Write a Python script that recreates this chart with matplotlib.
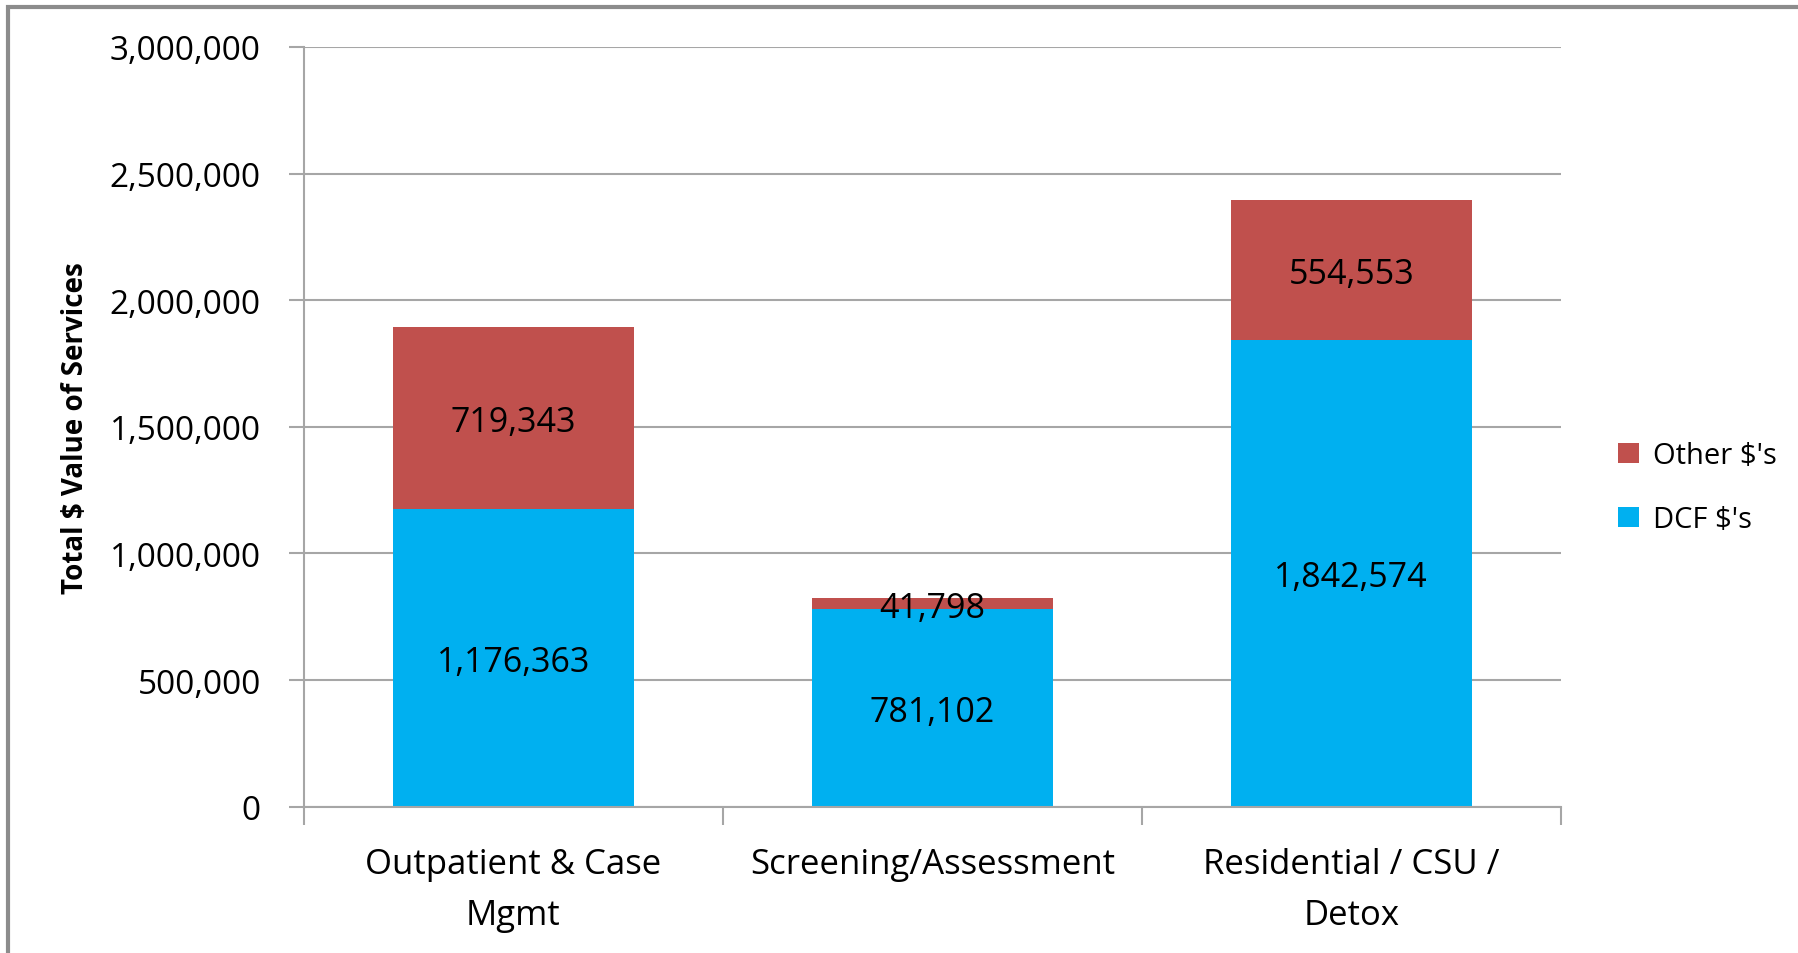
import matplotlib
matplotlib.use("Agg")
import matplotlib.pyplot as plt
import numpy as np

# chart data
categories = ["Outpatient & Case\nMgmt", "Screening/Assessment", "Residential / CSU /\nDetox"]
dcf = [1176363, 781102, 1842574]
other = [719343, 41798, 554553]

BLUE = "#00B0F0"
RED = "#C0504D"
GRID = "#A6A6A6"

plt.rcParams['font.family'] = ['Open Sans', 'DejaVu Sans']

fig = plt.figure(figsize=(17.98, 9.54), dpi=100)
ax = fig.add_axes([0.169, 0.1533, 0.699, 0.7964])

x = np.arange(len(categories))
w = 0.575
b1 = ax.bar(x, dcf, w, color=BLUE, label="DCF $'s", zorder=2)
b2 = ax.bar(x, other, w, bottom=dcf, color=RED, label="Other $'s", zorder=2)

# value labels centred in each segment
for i in range(len(x)):
    ax.text(x[i], dcf[i] / 2, f"{dcf[i]:,}", ha="center", va="center_baseline", fontsize=24.5)
    ax.text(x[i], dcf[i] + other[i] / 2, f"{other[i]:,}", ha="center", va="center_baseline", fontsize=24.5)

ax.set_xlim(-0.5, 2.5)
ax.set_ylim(0, 3000000)
ax.set_yticks(np.arange(0, 3000001, 500000))
ax.set_yticklabels([f"{v:,}" for v in range(0, 3000001, 500000)], fontsize=24)
ax.set_xticks(x)
ax.set_xticklabels(categories, fontsize=25, linespacing=1.65)
ax.set_xticks([-0.5, 0.5, 1.5, 2.5], minor=True)
ax.tick_params(axis="x", which="major", length=0, pad=29)
ax.tick_params(axis="x", which="minor", length=13, color=GRID, width=1.5)
ax.tick_params(axis="y", length=11, color=GRID, width=1.5, pad=20)

ax.yaxis.grid(True, color=GRID, linewidth=1.5, zorder=0)
for s in ["top", "right"]:
    ax.spines[s].set_visible(False)
for s in ["left", "bottom"]:
    ax.spines[s].set_color(GRID)
    ax.spines[s].set_linewidth(1.5)

ax.set_ylabel("Total $ Value of Services", fontsize=20, fontweight="bold", labelpad=14)

handles = [b2, b1]
ax.legend(handles, [h.get_label() for h in handles], loc="center left",
          bbox_to_anchor=(1.025, 0.42), frameon=False, fontsize=21,
          handlelength=0.7, handleheight=0.7, handletextpad=0.5, labelspacing=1.2)

# outer chart border
fig.patches.append(plt.Rectangle((0.0045, -0.05), 1.2, 1.0416,
                                 transform=fig.transFigure, fill=False,
                                 edgecolor="#8C8C8C", linewidth=3))

fig.savefig("out.png", dpi=100)
